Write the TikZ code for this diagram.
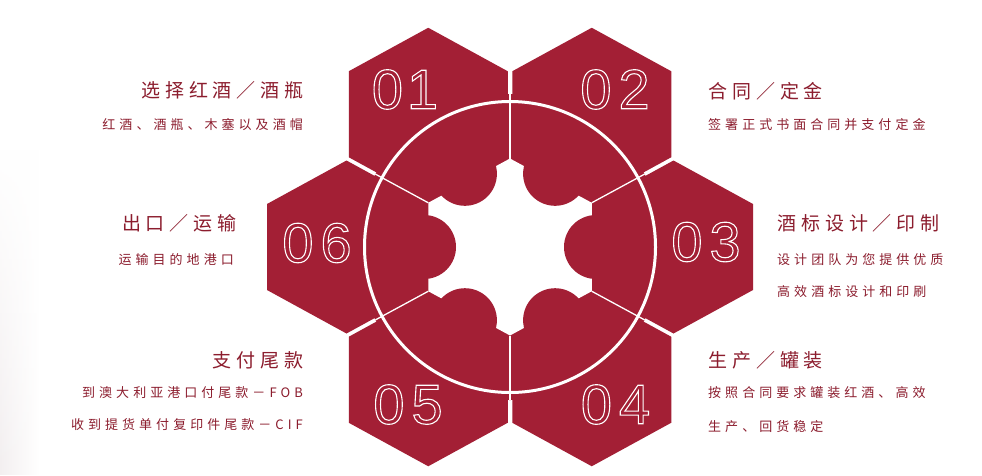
\documentclass[tikz,border=0pt]{standalone}
\usepackage{fontspec}
\setmainfont{Liberation Sans}
\newfontfamily\numfont{Liberation Sans}
\newfontfamily\cjkT[LetterSpace=26]{Noto Sans CJK SC}
\newfontfamily\cjkS[LetterSpace=31]{Noto Sans CJK SC}
\usetikzlibrary{fadings}
\definecolor{wine}{HTML}{A31F35}
\definecolor{inkred}{HTML}{8C1D2E}
\definecolor{edgegray}{HTML}{F3EFF0}
\newcommand\outlinetext[1]{\special{pdf:literal direct 1 Tr 1.1 w}#1\special{pdf:literal direct 0 Tr}}
\begin{document}
\begin{tikzpicture}[x=1pt,y=-1pt,
  title/.style={text=inkred, inner sep=0pt, font=\cjkT\fontsize{19}{19}\selectfont},
  subtext/.style={text=inkred, inner sep=0pt, font=\cjkS\fontsize{13}{13}\selectfont},
  num/.style={text=white, inner sep=0pt, font=\numfont\fontsize{56}{56}\selectfont},
  hexcell/.style={fill=wine},
  thinline/.style={draw=white, line width=1.3pt},
  ringline/.style={draw=white, line width=3pt},
  bulge/.style={fill=wine},
  starcore/.style={fill=white}]
\useasboundingbox (0,0) rectangle (982,475);
\fill[white] (0,0) rectangle (982,475);
\shade[left color=edgegray, right color=white, path fading=north] (0,150) rectangle (40,475);

% centres
\coordinate (C) at (510,247);
\coordinate (H1) at (428.25,114.25);
\coordinate (H2) at (591.75,114.25);
\coordinate (H3) at (673.5,247);
\coordinate (H4) at (591.75,379.75);
\coordinate (H5) at (428.25,379.75);
\coordinate (H6) at (346.5,247);

% hexagons
\foreach \h in {H1,H2,H3,H4,H5,H6}{
  \fill[hexcell] (\h) +(0,-86.5) -- +(79.5,-43) -- +(79.5,43) -- +(0,86.5) -- +(-79.5,43) -- +(-79.5,-43) -- cycle;
}
\fill[hexcell] (C) circle[radius=153];

% central star
\coordinate (V1) at (510,158.5);
\coordinate (V2) at (591.75,202.75);
\coordinate (V3) at (591.75,291.25);
\coordinate (V4) at (510,335.5);
\coordinate (V5) at (428.25,291.25);
\coordinate (V6) at (428.25,202.75);
\fill[starcore] (V1) -- (V2) -- (V3) -- (V4) -- (V5) -- (V6) -- cycle;
\coordinate (B1) at (464.9,173.8);
\coordinate (B2) at (555.1,173.8);
\coordinate (B3) at (596,247);
\coordinate (B4) at (555.1,320.2);
\coordinate (B5) at (464.9,320.2);
\coordinate (B6) at (424,247);
\foreach \b in {B1,B2,B3,B4,B5,B6}{
  \fill[bulge] (\b) circle[radius=32];
}

% thin radial lines
\coordinate (E1) at (510,94);
\coordinate (E2) at (644.6,174.1);
\coordinate (E3) at (644.6,319.9);
\coordinate (E4) at (510,400);
\coordinate (E5) at (375.4,319.9);
\coordinate (E6) at (375.4,174.1);
\draw[thinline] (V1) -- (E1);
\draw[thinline] (V2) -- (E2);
\draw[thinline] (V3) -- (E3);
\draw[thinline] (V4) -- (E4);
\draw[thinline] (V5) -- (E5);
\draw[thinline] (V6) -- (E6);

\draw[ringline] (C) circle[radius=145.5];

% numbers
\node[num] (n1) at (405,89.5) {\outlinetext{0\hspace{4pt}1}};
\node[num] (n2) at (615,89.5) {\outlinetext{0\hspace{7pt}2}};
\node[num] (n3) at (706,242) {\outlinetext{0\hspace{7pt}3}};
\node[num] (n4) at (615.5,404.5) {\outlinetext{0\hspace{7pt}4}};
\node[num] (n5) at (408,404.5) {\outlinetext{0\hspace{7pt}5}};
\node[num] (n6) at (317,243) {\outlinetext{0\hspace{7pt}6}};

% left texts
\node[title, anchor=east] (t1) at (304,90) {选择红酒／酒瓶};
\node[subtext, anchor=east] (s1) at (303,125) {红酒、酒瓶、木塞以及酒帽};
\node[title, anchor=east] (t6) at (237,223) {出口／运输};
\node[subtext, anchor=east] (s6) at (234,260) {运输目的地港口};
\node[title, anchor=east] (t5) at (304,360) {支付尾款};
\node[subtext, anchor=east] (s5a) at (303,393) {到澳大利亚港口付尾款－FOB};
\node[subtext, anchor=east] (s5b) at (303,425) {收到提货单付复印件尾款－CIF};

% right texts
\node[title, anchor=west] (t2) at (708,91) {合同／定金};
\node[subtext, anchor=west] (s2) at (708,125) {签署正式书面合同并支付定金};
\node[title, anchor=west] (t3) at (777,223) {酒标设计／印制};
\node[subtext, anchor=west] (s3a) at (777,260) {设计团队为您提供优质};
\node[subtext, anchor=west] (s3b) at (777,292) {高效酒标设计和印刷};
\node[title, anchor=west] (t4) at (708,360) {生产／罐装};
\node[subtext, anchor=west] (s4a) at (708,393) {按照合同要求罐装红酒、高效};
\node[subtext, anchor=west] (s4b) at (708,427) {生产、回货稳定};
\end{tikzpicture}
\end{document}
